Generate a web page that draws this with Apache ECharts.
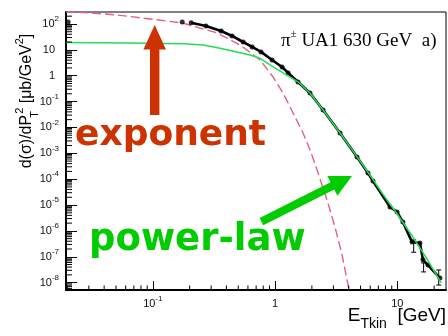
<!DOCTYPE html>
<html>
<head>
<meta charset="utf-8">
<script src="https://cdn.jsdelivr.net/npm/echarts@6/dist/echarts.min.js"></script>
<style>
  html, body { margin: 0; padding: 0; background: #fff; }
  #chart { width: 448px; height: 336px; }
</style>
</head>
<body>
<div id="chart"></div>
<script>
// Charged pion spectrum, UA1 at 630 GeV: E_Tkin [GeV] vs d(sigma)/dPT^2 [ub/GeV^2]

// measured points
const dataE = [0.0203, 0.174, 0.206, 0.272, 0.362, 0.445, 0.548, 0.65, 0.768, 0.945, 1.14, 1.28, 1.54, 1.93, 2.47, 3.40, 4.68, 5.75, 6.32, 8.71, 9.95, 11.1, 13.2, 15.3, 16.2, 17.8, 22.3];
const dataV = [119, 119, 112, 84, 53.6, 34.4, 20.1, 12.9, 8.3, 4.06, 2.18, 1.28, 0.57, 0.215, 0.047, 6.1e-3, 7.2e-4, 1.74e-4, 8.5e-5, 8.4e-6, 5.4e-6, 2.2e-6, 3.7e-7, 3.4e-7, 7.6e-8, 4.8e-8, 1.5e-8];

// error bars on the last points
const errE  = [13.6, 16.4, 21.8];
const errLo = [1.5e-7, 2.6e-8, 8.1e-9];
const errHi = [4.5e-7, 5.8e-8, 3.1e-8];

// exponential fit (dashed)
const expE = [0.0195, 0.027, 0.05, 0.095, 0.174, 0.336, 0.517, 0.754, 0.963, 1.162, 1.403, 1.693, 1.933, 2.248, 2.66, 3.09, 3.53, 4.03];
const expV = [291, 278, 225, 156, 109, 44.9, 15.4, 4.06, 0.89, 0.215, 0.0363, 6.1e-3, 1.35e-3, 1.74e-4, 1.57e-5, 1.42e-6, 1.18e-7, 5.2e-9];

// power-law fit (green)
const powE = [0.0195, 0.062, 0.177, 0.258, 0.355, 0.625, 0.754, 0.91, 1.16, 1.54, 1.93, 2.47, 3.40, 4.59, 5.65, 7.50, 10.1, 13.4, 17.5, 22.8];
const powV = [19.3, 18.2, 17.0, 15.4, 11.5, 6.3, 4.7, 2.6, 1.28, 0.58, 0.215, 0.047, 6.1e-3, 8.3e-4, 2.08e-4, 2.93e-5, 4.14e-6, 5.8e-7, 8.2e-8, 9.7e-9];

// axis ranges and tick labels
const xRange = [0.0195, 25];
const yRange = [5.2e-9, 290];
const xMajor = [0.1, 1, 10];
const yMajor = [1e-8, 1e-7, 1e-6, 1e-5, 1e-4, 1e-3, 1e-2, 1e-1, 1, 10, 100];

// 2..9 within each decade of a log range
function minorTicks(lo, hi) {
  const out = [];
  for (let d = Math.floor(Math.log10(lo)); d <= Math.ceil(Math.log10(hi)); d++) {
    for (let k = 2; k <= 9; k++) {
      const v = k * Math.pow(10, d);
      if (v > lo && v < hi) out.push(v);
    }
  }
  return out;
}
const xMinor = minorTicks(xRange[0], xRange[1]);
const yMinor = minorTicks(yRange[0], yRange[1]);

const SANS = 'Liberation Sans';
const labelRich = {
  b: { fontSize: 11, lineHeight: 18, fontFamily: SANS, color: '#111' },
  p: { fontSize: 11, lineHeight: 18, fontFamily: SANS, color: '#111', padding: [0, 4, 0, 0] },
  s: { fontSize: 8, verticalAlign: 'top', fontFamily: SANS, color: '#111' }
};
function expOf(v) { return Math.round(Math.log10(v)); }
function yLabel(v) {
  const e = expOf(v);
  if (e === 0) return '{p|1}';
  if (e === 1) return '{p|10}';
  return '{b|10}{s|' + e + '}';
}
function xLabel(v) {
  const e = expOf(v);
  if (e === 0) return '{b|1}';
  if (e === 1) return '{b|10}';
  return '{b|10}{s|' + e + '}';
}

const pairs = (xs, ys) => xs.map((x, i) => [x, ys[i]]);
const tickStyle = { stroke: '#000', lineWidth: 1 };

const chart = echarts.init(document.getElementById('chart'), null, { renderer: 'canvas' });

chart.setOption({
  animation: false,
  backgroundColor: '#fff',
  grid: {
    left: 66, right: 2, top: 12, bottom: 46,
    show: true, borderColor: '#000', borderWidth: 1,
    containLabel: false, outerBoundsMode: 'none'
  },
  xAxis: {
    type: 'log', min: xRange[0], max: xRange[1],
    axisLine: { show: true, lineStyle: { color: '#000', width: 2 } },
    axisTick: { show: true, inside: true, length: 9, customValues: xMajor, lineStyle: { color: '#000', width: 1 } },
    axisLabel: { customValues: xMajor, formatter: xLabel, margin: 5, rich: labelRich },
    splitLine: { show: false }
  },
  yAxis: {
    type: 'log', min: yRange[0], max: yRange[1],
    axisLine: { show: true, lineStyle: { color: '#000', width: 2 } },
    axisTick: { show: true, inside: true, length: 11, customValues: yMajor, lineStyle: { color: '#000', width: 1 } },
    axisLabel: { customValues: yMajor, formatter: yLabel, margin: 7, rich: labelRich },
    splitLine: { show: false }
  },
  series: [
    {
      // minor ticks along the bottom axis
      name: 'x-minor', type: 'custom', silent: true, z: 6,
      data: xMinor.map(v => [v, yRange[0]]),
      renderItem: function (params, api) {
        const p = api.coord([api.value(0), api.value(1)]);
        return { type: 'line', shape: { x1: p[0], y1: p[1], x2: p[0], y2: p[1] - 4.5 }, style: tickStyle };
      }
    },
    {
      // minor ticks along the left axis
      name: 'y-minor', type: 'custom', silent: true, z: 6,
      data: yMinor.map(v => [xRange[0], v]),
      renderItem: function (params, api) {
        const p = api.coord([api.value(0), api.value(1)]);
        return { type: 'line', shape: { x1: p[0], y1: p[1], x2: p[0] + 6, y2: p[1] }, style: tickStyle };
      }
    },
    {
      name: 'exponent', type: 'line',
      data: pairs(expE, expV), showSymbol: false, symbol: 'none', z: 2,
      lineStyle: { color: '#e6607e', width: 1.4, type: [9, 4] }
    },
    {
      name: 'data-line', type: 'line',
      data: pairs(dataE.slice(2), dataV.slice(2)), symbol: 'none', z: 3,
      lineStyle: { color: '#000', width: 2.6 }
    },
    {
      name: 'data', type: 'scatter',
      data: pairs(dataE, dataV), symbol: 'circle', symbolSize: 5, z: 4,
      itemStyle: { color: '#000' }
    },
    {
      name: 'errors', type: 'custom', z: 4,
      data: errE.map((x, i) => [x, errLo[i], errHi[i]]),
      encode: { x: 0, y: [1, 2] },
      renderItem: function (params, api) {
        const x = api.value(0);
        const top = api.coord([x, api.value(2)]);
        const bot = api.coord([x, api.value(1)]);
        const w = 2.5;
        return {
          type: 'group',
          children: [
            { type: 'line', shape: { x1: top[0], y1: top[1], x2: bot[0], y2: bot[1] }, style: tickStyle },
            { type: 'line', shape: { x1: top[0] - w, y1: top[1], x2: top[0] + w, y2: top[1] }, style: tickStyle },
            { type: 'line', shape: { x1: bot[0] - w, y1: bot[1], x2: bot[0] + w, y2: bot[1] }, style: tickStyle }
          ]
        };
      }
    },
    {
      name: 'power-law', type: 'line',
      data: pairs(powE, powV), symbol: 'none', z: 5,
      lineStyle: { color: '#22dd55', width: 1.5 }
    }
  ],
  graphic: [
    // y-axis title
    {
      type: 'text', x: 27, y: 101, rotation: Math.PI / 2, z: 10,
      style: {
        text: '{b|d(σ)/dP}{t|T}{s|2}{b| [μb/GeV}{s|2}{b|]}',
        rich: {
          b: { fontSize: 16, lineHeight: 26, fontFamily: SANS, fill: '#000' },
          t: { fontSize: 11, verticalAlign: 'bottom', width: 1, fontFamily: SANS, fill: '#000' },
          s: { fontSize: 11, verticalAlign: 'top', fontFamily: SANS, fill: '#000' }
        },
        fill: '#000', align: 'center', verticalAlign: 'middle'
      }
    },
    // x-axis title
    {
      type: 'text', x: 446, y: 316, z: 10,
      style: {
        text: '{e|E}{t|Tkin}{e|  [GeV]}',
        rich: {
          e: { fontSize: 19, lineHeight: 30, fontFamily: SANS, fill: '#000' },
          t: { fontSize: 14, verticalAlign: 'bottom', fontFamily: SANS, fill: '#000' }
        },
        fill: '#000', align: 'right', verticalAlign: 'middle'
      }
    },
    // dataset label
    {
      type: 'text', x: 281, y: 41, z: 10,
      style: {
        text: '{p|π}{s|±}{n| UA1 630 GeV  a)}',
        rich: {
          p: { fontSize: 19, lineHeight: 24, fontFamily: 'Liberation Serif', fill: '#000' },
          s: { fontSize: 11, verticalAlign: 'top', fontFamily: 'Liberation Serif', fill: '#000' },
          n: { fontSize: 19, lineHeight: 24, fontFamily: 'Liberation Serif', fill: '#000' }
        },
        fill: '#000', align: 'left', verticalAlign: 'middle'
      }
    },
    // "exponent" annotation and arrow
    {
      type: 'polygon', z: 10,
      shape: { points: [[150, 115], [150, 49.5], [143.4, 49.5], [154.7, 25], [166, 49.5], [159.4, 49.5], [159.4, 115]] },
      style: { fill: '#cc3300' }
    },
    {
      type: 'text', x: 75, y: 135.5, z: 10,
      style: { text: 'exponent', fontFamily: 'DejaVu Sans', fontWeight: 'bold', fontSize: 36, fill: '#cc3300', align: 'left', verticalAlign: 'middle' }
    },
    // "power-law" annotation and arrow
    {
      type: 'polygon', z: 10,
      shape: { points: [[259.7, 218.1], [330.6, 182.3], [327.4, 176.1], [352, 176], [337.4, 195.7], [334.2, 189.5], [263.3, 225.3]] },
      style: { fill: '#00cc00' }
    },
    {
      type: 'text', x: 89, y: 240.5, z: 10,
      style: { text: 'power-law', fontFamily: 'DejaVu Sans', fontWeight: 'bold', fontSize: 37, fill: '#00cc00', align: 'left', verticalAlign: 'middle' }
    }
  ]
});
</script>
</body>
</html>
